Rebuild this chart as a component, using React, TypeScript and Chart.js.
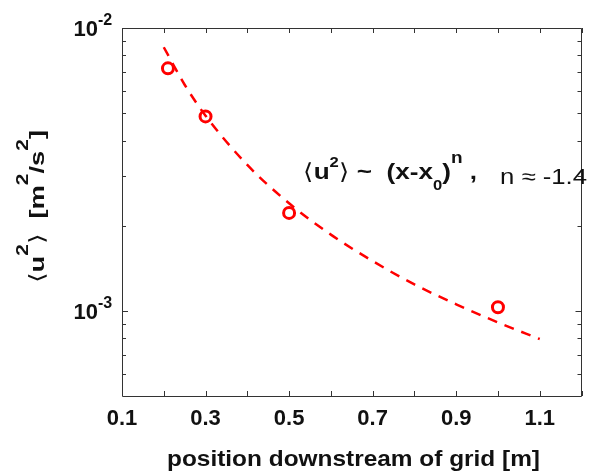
import React, { useEffect, useRef } from 'react';
import { Chart, registerables } from 'chart.js';

Chart.register(...registerables);

// measured points
const measuredX = [0.21, 0.3, 0.5, 1.0];
const measuredU2 = [7.2e-3, 4.87e-3, 2.22e-3, 1.03e-3];

// dashed fit curve
const fitX = [0.2, 0.25, 0.3, 0.4, 0.5, 0.6, 0.7, 0.8, 0.9, 1.0, 1.1];
const fitU2 = [8.55e-3, 6.3e-3, 4.9e-3, 3.28e-3, 2.4e-3, 1.86e-3, 1.5e-3, 1.24e-3, 1.055e-3, 9.1e-4, 7.95e-4];

// axes
const xTickValues = [0.1, 0.2, 0.3, 0.4, 0.5, 0.6, 0.7, 0.8, 0.9, 1.0, 1.1, 1.2];
const xTickLabels = ['0.1', '', '0.3', '', '0.5', '', '0.7', '', '0.9', '', '1.1', ''];
const yMajorTicks = [1e-2, 1e-3];
const yMajorExponents = ['-2', '-3'];
const yMinorTicks = [9e-3, 8e-3, 7e-3, 6e-3, 5e-3, 4e-3, 3e-3, 2e-3, 9e-4, 8e-4, 7e-4, 6e-4];

const xTitle = 'position downstream of grid [m]';
const fitNote = 'n \u2248 -1.4';

type Seg = { t: string; f: string; dy?: number };

const FF = '"Liberation Sans", Arial, sans-serif';
const B = (s: number) => `bold ${s}px ${FF}`;
const R = (s: number) => `${s}px ${FF}`;

function segWidth(ctx: CanvasRenderingContext2D, segs: Seg[]) {
  let w = 0;
  for (const s of segs) {
    ctx.font = s.f;
    w += ctx.measureText(s.t).width;
  }
  return w;
}

function drawSegs(ctx: CanvasRenderingContext2D, x: number, y: number, segs: Seg[]) {
  let cx = x;
  ctx.textAlign = 'left';
  ctx.textBaseline = 'alphabetic';
  for (const s of segs) {
    ctx.font = s.f;
    ctx.fillText(s.t, cx, y + (s.dy || 0));
    cx += ctx.measureText(s.t).width;
  }
}

// draw segments starting at (x,y) stretched along the text direction to a given width
function drawSegsFit(ctx: CanvasRenderingContext2D, x: number, y: number, segs: Seg[], targetW: number) {
  const w = segWidth(ctx, segs);
  ctx.save();
  ctx.translate(x, y);
  ctx.scale(targetW / w, 1);
  drawSegs(ctx, 0, 0, segs);
  ctx.restore();
}

const framePlugin = {
  id: 'matlabFrame',
  afterDraw(chart: any) {
    const { ctx, chartArea: a, scales } = chart;
    const xs = scales.x;
    const ys = scales.y;
    ctx.save();
    // box
    ctx.strokeStyle = '#333333';
    ctx.lineWidth = 1;
    ctx.beginPath();
    ctx.rect(Math.round(a.left) + 0.5, Math.round(a.top) + 0.5, Math.round(a.right - a.left) - 1, Math.round(a.bottom - a.top));
    ctx.stroke();

    // x ticks (bottom and top, inward)
    ctx.beginPath();
    xTickValues.forEach((v) => {
      const px = Math.round(xs.getPixelForValue(v)) + 0.5;
      ctx.moveTo(px, a.bottom);
      ctx.lineTo(px, a.bottom - 5);
      ctx.moveTo(px, a.top);
      ctx.lineTo(px, a.top + 5);
    });
    yMajorTicks.forEach((v) => {
      const py = Math.round(ys.getPixelForValue(v)) + 0.5;
      ctx.moveTo(a.left, py);
      ctx.lineTo(a.left + 6, py);
      ctx.moveTo(a.right, py);
      ctx.lineTo(a.right - 6, py);
    });
    yMinorTicks.forEach((v) => {
      const py = Math.round(ys.getPixelForValue(v)) + 0.5;
      ctx.moveTo(a.left, py);
      ctx.lineTo(a.left + 4, py);
      ctx.moveTo(a.right, py);
      ctx.lineTo(a.right - 4, py);
    });
    ctx.stroke();

    ctx.fillStyle = '#111111';
    // x tick labels
    ctx.font = B(22);
    ctx.textAlign = 'center';
    ctx.textBaseline = 'alphabetic';
    xTickValues.forEach((v, i) => {
      if (!xTickLabels[i]) return;
      ctx.fillText(xTickLabels[i], xs.getPixelForValue(v), a.bottom + 29);
    });

    // y tick labels 10^n
    yMajorTicks.forEach((v, i) => {
      const py = ys.getPixelForValue(v);
      ctx.font = B(22);
      ctx.textAlign = 'right';
      ctx.textBaseline = 'alphabetic';
      ctx.fillText('10', 98, py + 8);
      ctx.font = B(16);
      ctx.textAlign = 'left';
      ctx.fillText(yMajorExponents[i], 98, py - 3);
    });

    // x title
    ctx.font = B(22);
    {
      const w = ctx.measureText(xTitle).width;
      const target = 373;
      ctx.save();
      ctx.translate(353.5, 466);
      ctx.scale(target / w, 1);
      ctx.textAlign = 'center';
      ctx.textBaseline = 'alphabetic';
      ctx.fillText(xTitle, 0, 0);
      ctx.restore();
    }

    // y title (rotated)
    const ySegs: Seg[] = [
      { t: '\u27E8', f: R(21) },
      { t: 'u', f: B(21) },
      { t: '2', f: B(16), dy: -16 },
      { t: '\u27E9', f: R(21) },
      { t: '  [m', f: B(21) },
      { t: '2', f: B(16), dy: -16 },
      { t: '/s', f: B(21) },
      { t: '2', f: B(16), dy: -16 },
      { t: ']', f: B(21) },
    ];
    ctx.save();
    ctx.translate(43.5, 283);
    ctx.rotate(-Math.PI / 2);
    drawSegsFit(ctx, 0, 0, ySegs, 153);
    ctx.restore();

    // annotation
    const annSegs: Seg[] = [
      { t: '\u27E8', f: R(22) },
      { t: 'u', f: B(22) },
      { t: '2', f: B(14), dy: -12 },
      { t: '\u27E9', f: R(22) },
      { t: ' ~  (x-x', f: B(22) },
      { t: '0', f: B(14), dy: 11 },
      { t: ')', f: B(22) },
      { t: 'n', f: B(16), dy: -16 },
      { t: ' ,', f: B(22) },
    ];
    drawSegsFit(ctx, 303, 178.5, annSegs, 174);
    drawSegsFit(ctx, 500, 184, [{ t: fitNote, f: R(22) }], 87);

    ctx.restore();
  },
};

export default function App() {
  const ref = useRef<HTMLCanvasElement | null>(null);
  useEffect(() => {
    if (!ref.current) return;
    const chart = new Chart(ref.current, {
      type: 'scatter',
      data: {
        datasets: [
          {
            label: 'fit',
            data: fitX.map((x, i) => ({ x, y: fitU2[i] })),
            showLine: true,
            borderColor: '#ff0000',
            borderWidth: 2.5,
            borderDash: [10, 8],
            pointRadius: 0,
            cubicInterpolationMode: 'monotone',
            fill: false,
          },
          {
            label: 'measured',
            data: measuredX.map((x, i) => ({ x, y: measuredU2[i] })),
            showLine: false,
            borderColor: '#ff0000',
            backgroundColor: 'rgba(0,0,0,0)',
            pointStyle: 'circle',
            pointRadius: 5.5,
            pointBorderWidth: 3,
          },
        ],
      },
      options: {
        responsive: false,
        animation: false,
        devicePixelRatio: 1,
        layout: { padding: { left: 122, top: 28, right: 1, bottom: 78 } },
        plugins: { legend: { display: false }, tooltip: { enabled: false } },
        scales: {
          x: { type: 'linear', min: 0.1, max: 1.2, display: false },
          y: { type: 'logarithmic', min: 5e-4, max: 1e-2, display: false },
        },
      },
      plugins: [framePlugin],
    } as any);
    return () => chart.destroy();
  }, []);
  return (
    <div style={{ position: 'absolute', left: 0, top: 0, width: 590, height: 474, background: '#fff' }}>
      <canvas ref={ref} width={590} height={474} style={{ display: 'block' }} />
    </div>
  );
}
